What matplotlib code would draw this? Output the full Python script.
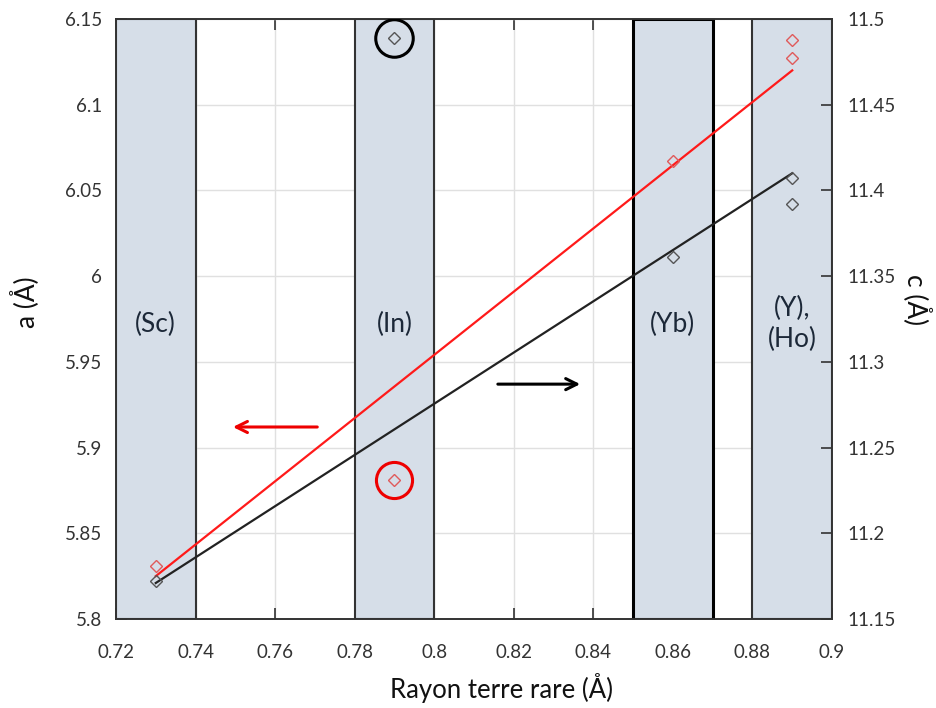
import matplotlib
matplotlib.use("Agg")
import matplotlib.pyplot as plt

plt.rcParams['font.family'] = ['Lato', 'DejaVu Sans']

# Data
red_x = [0.73, 0.79, 0.86, 0.89, 0.89]
red_a = [5.831, 5.881, 6.067, 6.127, 6.138]
blk_x = [0.73, 0.79, 0.86, 0.89, 0.89]
blk_c = [11.172, 11.489, 11.361, 11.407, 11.392]
trend_x = [0.73, 0.89]
trend_a = [5.825, 6.120]
trend_c = [11.171, 11.410]
bands = [(0.72, 0.74), (0.78, 0.80), (0.85, 0.87), (0.88, 0.90)]
band_labels = ["(Sc)", "(In)", "(Yb)", "(Y),\n(Ho)"]
band_centers = [0.73, 0.79, 0.86, 0.89]
circled_a = (0.79, 5.881)
circled_c = (0.79, 11.489)
x_ticks = [0.72, 0.74, 0.76, 0.78, 0.80, 0.82, 0.84, 0.86, 0.88, 0.90]
x_labels = ["0.72", "0.74", "0.76", "0.78", "0.8", "0.82", "0.84", "0.86", "0.88", "0.9"]
a_ticks = [5.8, 5.85, 5.9, 5.95, 6.0, 6.05, 6.1, 6.15]
a_labels = ["5.8", "5.85", "5.9", "5.95", "6", "6.05", "6.1", "6.15"]
c_ticks = [11.15, 11.2, 11.25, 11.3, 11.35, 11.4, 11.45, 11.5]
c_labels = ["11.15", "11.2", "11.25", "11.3", "11.35", "11.4", "11.45", "11.5"]

fig = plt.figure(figsize=(9.36, 7.08), dpi=100)
ax = fig.add_axes([0.1239, 0.1257, 0.7650, 0.8475])
ax2 = ax.twinx()

ax.set_xlim(0.72, 0.90)
ax.set_ylim(5.8, 6.15)
ax2.set_ylim(11.15, 11.5)

ax.set_xticks(x_ticks)
ax.set_xticklabels(x_labels)
ax.set_yticks(a_ticks)
ax.set_yticklabels(a_labels)
ax2.set_yticks(c_ticks)
ax2.set_yticklabels(c_labels)

ax.grid(True, color='#e0e0e0', linewidth=1.0, zorder=0)
ax.set_axisbelow(True)

for i, (x0, x1) in enumerate(bands):
    lw = 2.2 if i == 2 else 1.5
    ec = '#000000' if i == 2 else '#333333'
    ax.axvspan(x0, x1, facecolor='#d6dee8', edgecolor=ec, linewidth=lw, zorder=1)

for xc, lab in zip(band_centers, band_labels):
    ax.text(xc, 5.972, lab, ha='center', va='center', fontsize=19, zorder=5,
            linespacing=1.3, color='#1c2838')

# trend lines
ax.plot(trend_x, trend_a, color='#ff1a1a', linewidth=1.6, zorder=4)
ax2.plot(trend_x, trend_c, color='#222222', linewidth=1.6, zorder=4)

# data points
ax.plot(red_x, red_a, linestyle='none', marker='D', markersize=6,
        markerfacecolor='none', markeredgecolor='#e05a5a', markeredgewidth=1.0, zorder=5)
ax2.plot(blk_x, blk_c, linestyle='none', marker='D', markersize=6,
         markerfacecolor='none', markeredgecolor='#555555', markeredgewidth=1.0, zorder=5)

# circles
ax.plot([circled_a[0]], [circled_a[1]], linestyle='none', marker='o', markersize=26,
        markerfacecolor='none', markeredgecolor='#ee0000', markeredgewidth=2.2, zorder=6)
ax2.plot([circled_c[0]], [circled_c[1]], linestyle='none', marker='o', markersize=27,
         markerfacecolor='none', markeredgecolor='#000000', markeredgewidth=2.2, zorder=6)

# arrows
ax.annotate('', xy=(0.7487, 5.912), xytext=(0.7713, 5.912),
            arrowprops=dict(arrowstyle='->', color='#ee0000', lw=2.2,
                            mutation_scale=20), zorder=6)
ax.annotate('', xy=(0.8374, 5.937), xytext=(0.8153, 5.937),
            arrowprops=dict(arrowstyle='->', color='#000000', lw=2.2,
                            mutation_scale=20), zorder=6)

ax.tick_params(axis='x', direction='in', length=8, width=1.2, labelsize=13.5,
               top=True, pad=18, colors='#333333', labelcolor='#333333')
ax.tick_params(axis='y', direction='in', length=8, width=1.2, labelsize=13.5,
               pad=10, colors='#333333', labelcolor='#333333')
ax2.tick_params(axis='y', direction='in', length=8, width=1.2, labelsize=13.5,
                pad=11, colors='#333333', labelcolor='#333333')

for sp in list(ax.spines.values()) + list(ax2.spines.values()):
    sp.set_color('#333333')
    sp.set_linewidth(1.2)

ax.set_xlabel('Rayon terre rare (Å)', fontsize=18.5, color='#111111', va='center')
ax.xaxis.set_label_coords(0.539, -0.115)
ax.set_ylabel('a (Å)', fontsize=19, color='#111111', va='center')
ax.yaxis.set_label_coords(-0.128, 0.528)
ax2.set_ylabel('c (Å)', fontsize=19, rotation=270, va='center', color='#111111')
ax2.yaxis.set_label_coords(1.119, 0.533)

fig.savefig('out.png', dpi=100)
